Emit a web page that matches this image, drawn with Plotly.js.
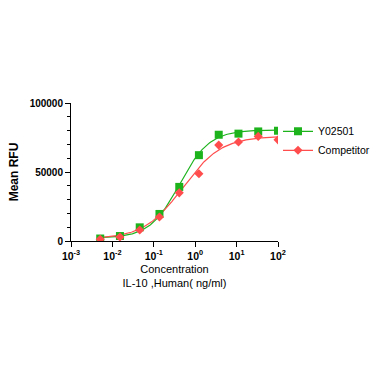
<!DOCTYPE html>
<html><head><meta charset="utf-8">
<script src="https://cdn.plot.ly/plotly-3.0.1.min.js"></script>
<style>html,body{margin:0;padding:0;background:#fff}#chart{width:389px;height:389px}</style>
</head><body><div id="chart"></div>
<script>
// Concentrations (ng/ml), 3-fold dilutions
const concentration = [0.00508, 0.0152, 0.0457, 0.137, 0.412, 1.23, 3.70, 11.1, 33.3, 100];
const y02501 = [1800, 3600, 9900, 19600, 39200, 62200, 77000, 77800, 79400, 79900];
const competitor = [1200, 2900, 8000, 17400, 34900, 48700, 69500, 71700, 75800, 73300];
// 4PL fit parameters: [bottom, top, EC50, hill]
const fitY02501 = [2000, 80500, 0.42, 1.2];
const fitCompetitor = [1500, 76000, 0.50, 0.93];
const seriesNames = ['Y02501', 'Competitor'];
const xTickVals = [0.001, 0.01, 0.1, 1, 10, 100];
const xTickText = ['10<sup>-3</sup>', '10<sup>-2</sup>', '10<sup>-1</sup>', '10<sup>0</sup>', '10<sup>1</sup>', '10<sup>2</sup>'];
const yTickVals = [0, 50000, 100000];
const yTickText = ['0', '50000', '100000'];

function curve(p) {
  const xs = [], ys = [];
  for (let i = 0; i <= 200; i++) {
    const lx = -2.3 + i * (4.3 / 200);
    const x = Math.pow(10, lx);
    xs.push(x);
    ys.push(p[0] + (p[1] - p[0]) / (1 + Math.pow(p[2] / x, p[3])));
  }
  return {xs, ys};
}
// separate points with gaps so no connecting line is drawn, but legend shows a line
function gapped(arr) {
  const out = [];
  arr.forEach((v, i) => { out.push(v); if (i < arr.length - 1) out.push(null); });
  return out;
}
const green = '#1db31d', red = '#ff4d4d';
const cg = curve(fitY02501), cr = curve(fitCompetitor);
const traces = [
  {x: cg.xs, y: cg.ys, mode: 'lines', line: {color: green, width: 1.2}, showlegend: false, hoverinfo: 'skip'},
  {x: cr.xs, y: cr.ys, mode: 'lines', line: {color: red, width: 1.2}, showlegend: false, hoverinfo: 'skip'},
  {x: gapped(concentration), y: gapped(y02501), name: seriesNames[0], mode: 'lines+markers', connectgaps: false,
   line: {color: green, width: 1.2}, marker: {symbol: 'square', size: 8, color: green}},
  {x: gapped(concentration), y: gapped(competitor), name: seriesNames[1], mode: 'lines+markers', connectgaps: false,
   line: {color: red, width: 1.2}, marker: {symbol: 'diamond', size: 7, color: red}}
];
const font = {family: 'Liberation Sans, Arial, sans-serif', color: '#000'};
const layout = {
  width: 389, height: 389,
  margin: {l: 71, r: 111, t: 103, b: 148},
  paper_bgcolor: '#fff', plot_bgcolor: '#fff',
  font: Object.assign({size: 10}, font),
  showlegend: true,
  legend: {x: 1.0, y: 0.9, xanchor: 'left', yanchor: 'top', font: Object.assign({size: 10.5}, font),
           bgcolor: 'rgba(0,0,0,0)', itemwidth: 30, tracegroupgap: 0},
  xaxis: {type: 'log', range: [-3, 2], tickvals: xTickVals, ticktext: xTickText, showgrid: false, zeroline: false,
          showline: true, linecolor: '#000', linewidth: 1, ticks: 'outside', ticklen: 5, tickcolor: '#000',
          tickfont: Object.assign({size: 10.5, weight: 'bold'}, font),
          title: {text: 'Concentration<br>IL-10 ,Human( ng/ml)', font: Object.assign({size: 11}, font), standoff: 4}},
  yaxis: {range: [0, 100000], tickvals: yTickVals, ticktext: yTickText, showgrid: false, zeroline: false,
          showline: true, linecolor: '#000', linewidth: 1, ticks: 'outside', ticklen: 5, tickcolor: '#000',
          minor: {dtick: 10000, ticks: 'outside', ticklen: 3, tickcolor: '#000', showgrid: false},
          tickfont: Object.assign({size: 10, weight: 'bold'}, font),
          title: {text: '<b>Mean RFU</b>', font: Object.assign({size: 12}, font), standoff: 8}}
};
Plotly.newPlot('chart', traces, layout, {displayModeBar: false, staticPlot: true});
</script></body></html>
